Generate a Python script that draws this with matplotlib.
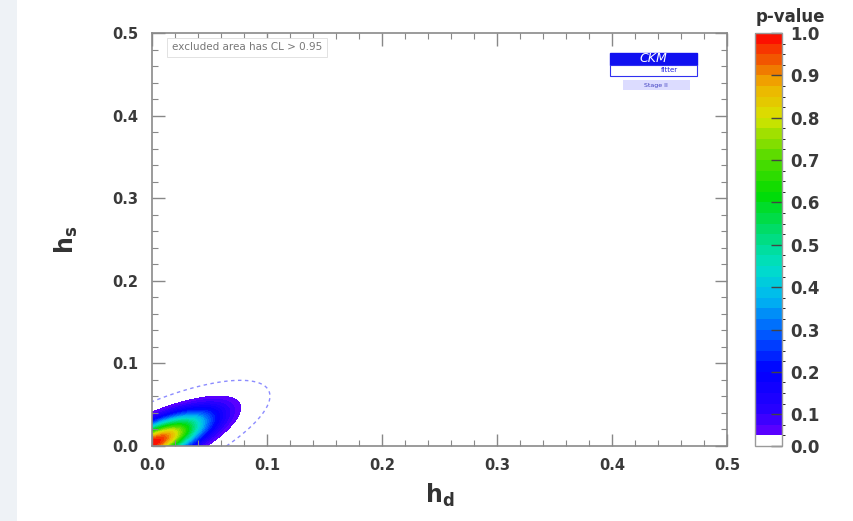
"""CKMfitter-style p-value scan in the (h_d, h_s) plane."""
import matplotlib

matplotlib.use("Agg")
import matplotlib.pyplot as plt
import numpy as np
from matplotlib.colors import BoundaryNorm, LinearSegmentedColormap, ListedColormap
from matplotlib.patches import Rectangle

# fit summary
BEST_FIT = (0.0, 0.003)        # (h_d, h_s)
SIGMA = (0.0315, 0.0235)       # (h_d, h_s)
RHO = 0.75
DASHED_P = 0.005

P_LEVELS = np.round(np.arange(0.05, 1.0001, 0.025), 4)
CBAR_TICKS = [0.0, 0.1, 0.2, 0.3, 0.4, 0.5, 0.6, 0.7, 0.8, 0.9, 1.0]
AXIS_TICKS = [0.0, 0.1, 0.2, 0.3, 0.4, 0.5]

# colour anchors along the p-value bar
CMAP_POS = [0.0, 0.06, 0.16, 0.26, 0.34, 0.42, 0.52, 0.60, 0.70, 0.79, 0.87, 0.93, 1.0]
CMAP_COL = ["#6400ff", "#2800ff", "#0000ff", "#0060ff", "#00b8f0", "#00e0c8",
            "#00dc60", "#00dc00", "#60dc00", "#d8e400", "#f0b000", "#f06000", "#ff0000"]


def pvalue(hd, hs):
    x = (hd - BEST_FIT[0]) / SIGMA[0]
    y = (hs - BEST_FIT[1]) / SIGMA[1]
    chi2 = (x * x - 2 * RHO * x * y + y * y) / (1 - RHO ** 2)
    return np.exp(-chi2 / 2)


fig = plt.figure(figsize=(8.54, 5.21), dpi=100)
fig.patch.set_facecolor("white")
fig.add_artist(Rectangle((0, 0), 17 / 854, 1, transform=fig.transFigure,
                         facecolor="#eef2f6", edgecolor="none", zorder=-1))

ax = fig.add_axes([152 / 854, 75 / 521, 575 / 854, 413 / 521])
cax = fig.add_axes([755 / 854, 75 / 521, 27 / 854, 413 / 521])

grid = np.linspace(0, 0.5, 800)
HD, HS = np.meshgrid(grid, grid)
P = pvalue(HD, HS)

base = LinearSegmentedColormap.from_list("pv", list(zip(CMAP_POS, CMAP_COL)))
mids = (P_LEVELS[:-1] + P_LEVELS[1:]) / 2
band_cols = ["white"] + [base((m - 0.05) / 0.95) for m in mids]
bounds = np.concatenate([[0.0], P_LEVELS])
cmap = ListedColormap(band_cols)
norm = BoundaryNorm(bounds, cmap.N)

cs = ax.contourf(HD, HS, P, levels=bounds, cmap=cmap, norm=norm)
ax.contour(HD, HS, P, levels=[DASHED_P], colors="#8c8cff", linestyles=[(0, (2.5, 2.5))],
           linewidths=1.0)

ax.set_xlim(0, 0.5)
ax.set_ylim(0, 0.5)
ax.set_xticks(AXIS_TICKS)
ax.set_yticks(AXIS_TICKS)
ax.set_xticks(np.arange(0, 0.5001, 0.02), minor=True)
ax.set_yticks(np.arange(0, 0.5001, 0.02), minor=True)
ax.set_xticklabels([f"{t:.1f}" for t in AXIS_TICKS])
ax.set_yticklabels([f"{t:.1f}" for t in AXIS_TICKS])
ax.tick_params(which="both", direction="in", top=True, right=True, colors="#888888",
               labelcolor="#3a3a3a")
ax.tick_params(which="major", length=9, width=1)
ax.tick_params(which="minor", length=4, width=0.8)
ax.tick_params(axis="x", which="major", pad=9)
ax.tick_params(axis="y", which="major", pad=10)
for lab in ax.get_xticklabels() + ax.get_yticklabels():
    lab.set_fontweight("bold")
    lab.set_fontsize(10.5)
for s in ax.spines.values():
    s.set_color("#8a8a8a")
    s.set_linewidth(1.2)

ax.set_xlabel(r"$\mathbf{h_d}$", fontsize=17, color="#333333", labelpad=6)
ax.set_ylabel(r"$\mathbf{h_s}$", fontsize=17, color="#333333", labelpad=23)

ax.text(0.035, 0.965, "excluded area has CL > 0.95", transform=ax.transAxes,
        fontsize=7.5, color="#777777", va="center",
        bbox=dict(boxstyle="square,pad=0.45", facecolor="white", edgecolor="#dddddd", lw=0.6))

# CKMfitter logo
ax.add_patch(Rectangle((0.797, 0.923), 0.151, 0.029, transform=ax.transAxes,
                       facecolor="#1010f0", edgecolor="#1010f0"))
ax.text(0.872, 0.938, "CKM", transform=ax.transAxes, fontsize=9, color="white",
        style="italic", ha="center", va="center")
ax.add_patch(Rectangle((0.797, 0.897), 0.151, 0.026, transform=ax.transAxes,
                       facecolor="white", edgecolor="#3030f0", lw=0.8))
ax.text(0.90, 0.910, "fitter", transform=ax.transAxes, fontsize=5, color="#2020e0",
        ha="center", va="center")
ax.add_patch(Rectangle((0.819, 0.862), 0.117, 0.023, transform=ax.transAxes,
                       facecolor="#dcdcff", edgecolor="none"))
ax.text(0.877, 0.873, "Stage II", transform=ax.transAxes, fontsize=4.5, color="#4040c0",
        ha="center", va="center")

cb = fig.colorbar(cs, cax=cax, ticks=CBAR_TICKS)
cb.outline.set_edgecolor("#9a9a9a")
cb.outline.set_linewidth(1)
cax.tick_params(direction="in", length=8, width=1, colors="#444444", labelsize=12,
                labelcolor="#3a3a3a", pad=6)
cax.set_yticklabels([f"{t:.1f}" for t in CBAR_TICKS])
for lab in cax.get_yticklabels():
    lab.set_fontweight("bold")
cax.text(1.3, 1.038, "p-value", transform=cax.transAxes, fontsize=12, fontweight="bold",
         color="#333333", ha="center", va="center")

fig.savefig("out.png", dpi=100)
